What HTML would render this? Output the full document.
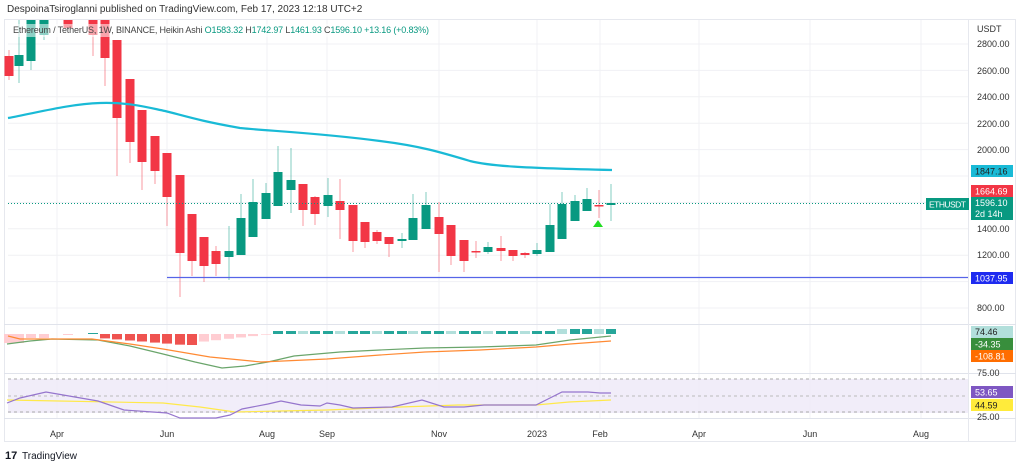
<!DOCTYPE html>
<html><head><meta charset="utf-8"><style>
body{margin:0;background:#fff;width:1024px;height:467px;overflow:hidden;font-family:"Liberation Sans",sans-serif}
svg{display:block}
text{font-family:"Liberation Sans",sans-serif}
</style></head><body>
<svg id="s" width="1024" height="467" xmlns="http://www.w3.org/2000/svg">
<rect width="1024" height="467" fill="#fff"/>
<text x="7" y="12" font-size="10" fill="#333">DespoinaTsiroglanni published on TradingView.com, Feb 17, 2023 12:18 UTC+2</text>
<rect x="4.5" y="19.5" width="1011" height="422" fill="none" stroke="#e6e8ee"/>
<g id="grid" stroke="#f0f1f4" stroke-width="1"></g>
<line x1="4" y1="324.5" x2="1016" y2="324.5" stroke="#e0e3eb"/>
<line x1="4" y1="373.5" x2="1016" y2="373.5" stroke="#e0e3eb"/>
<line x1="4" y1="418.5" x2="1016" y2="418.5" stroke="#e0e3eb"/>
<line x1="968.5" y1="19" x2="968.5" y2="441" stroke="#e6e8ee"/>
<rect x="8" y="379" width="960" height="34" fill="#ede8f7" opacity="0.8"/>
<line x1="8" y1="379" x2="968" y2="379" stroke="#aaa" stroke-dasharray="3,3"/>
<line x1="8" y1="396" x2="968" y2="396" stroke="#bbb" stroke-dasharray="3,3"/>
<line x1="8" y1="412" x2="968" y2="412" stroke="#aaa" stroke-dasharray="3,3"/>
<g id="c"></g>
<line x1="8" y1="203.5" x2="968" y2="203.5" stroke="#089981" stroke-dasharray="1,2"/>
<line x1="167" y1="277.5" x2="968" y2="277.5" stroke="#5664e8" stroke-width="1.3"/>
<path d="M8,118 C40,112 70,104 100,103 C130,102 150,108 165,111 C185,116 200,121 240,128 C270,131 320,133 380,141 C420,146 440,152 470,161 C490,166 520,168 612,170" fill="none" stroke="#19bad6" stroke-width="2.2"/>
<polygon points="593,227 603,227 598,220" fill="#22dd22"/>
<g id="h"></g>
<polyline fill="none" stroke="#6aa56b" stroke-width="1.2" points="7,344 30,341 52,339 98,340 130,346 163,354 195,362 222,368 245,366 268,362 294,356 340,352 380,350 425,348 480,347 536,345 570,340 611,336"/>
<polyline fill="none" stroke="#ff8a33" stroke-width="1.2" points="8,336 20,339 92,339 130,344 163,349 210,357 261,362 327,359 380,355 425,352 480,350 536,347 570,344 611,341"/>
<polyline fill="none" stroke="#ffe94a" stroke-width="1.2" points="7,400 59,401 163,403 200,407 235,412 280,411 327,410 400,407 458,405 536,405 569,402 611,400"/>
<polyline fill="none" stroke="#9575cd" stroke-width="1.2" points="7,403 20,398 46,392 69,396 98,401 124,410 167,413 180,418 216,418 230,415 242,409 268,404 281,401 301,405 320,406 327,403 340,405 353,408 392,407 422,400 444,407 464,407 484,405 510,405 536,405 550,398 562,392 588,392 600,393 611,393"/>
<g font-size="9" fill="#333">
<text x="977" y="32">USDT</text>
<text x="977" y="47">2800.00</text><text x="977" y="74">2600.00</text><text x="977" y="100">2400.00</text><text x="977" y="127">2200.00</text><text x="977" y="153">2000.00</text><text x="977" y="232">1400.00</text><text x="977" y="258">1200.00</text><text x="977" y="311">800.00</text>
<text x="977" y="376">75.00</text><text x="977" y="420">25.00</text>
</g>
<rect x="971" y="165" width="42" height="12" fill="#19bad6"/><text x="975" y="174.5" font-size="9" fill="#222">1847.16</text>
<rect x="971" y="185" width="42" height="12" fill="#f23645"/><text x="975" y="194.5" font-size="9" fill="#fff">1664.69</text>
<rect x="971" y="197" width="42" height="23" fill="#089981"/><text x="975" y="206" font-size="9" fill="#fff">1596.10</text><text x="975" y="217" font-size="9" fill="#fff">2d 14h</text>
<rect x="926" y="198" width="43" height="12" fill="#089981"/><text x="929" y="207.5" font-size="8.5" fill="#fff" textLength="37">ETHUSDT</text>
<rect x="971" y="272" width="42" height="12" fill="#1e2bf0"/><text x="975" y="281.5" font-size="9" fill="#fff">1037.95</text>
<rect x="971" y="326" width="42" height="12" fill="#b2dfdb"/><text x="975" y="335" font-size="9" fill="#222">74.46</text>
<rect x="971" y="338" width="42" height="12" fill="#388e3c"/><text x="975" y="347.5" font-size="9" fill="#fff">-34.35</text>
<rect x="971" y="350" width="42" height="12" fill="#ff6d00"/><text x="975" y="359.5" font-size="9" fill="#fff">-108.81</text>
<rect x="971" y="386" width="42" height="12" fill="#7e57c2"/><text x="975" y="395.5" font-size="9" fill="#fff">53.65</text>
<rect x="971" y="399" width="42" height="12" fill="#ffeb3b"/><text x="975" y="408.5" font-size="9" fill="#222">44.59</text>
<g font-size="9" fill="#333" text-anchor="middle">
<text x="57" y="437">Apr</text><text x="167" y="437">Jun</text><text x="267" y="437">Aug</text><text x="327" y="437">Sep</text><text x="439" y="437">Nov</text><text x="537" y="437">2023</text><text x="600" y="437">Feb</text><text x="699" y="437">Apr</text><text x="810" y="437">Jun</text><text x="921" y="437">Aug</text>
</g>
<rect x="6" y="24" width="430" height="13" fill="#fff" opacity="0.55"/>
<text x="13" y="33" font-size="9" fill="#444" textLength="416">Ethereum / TetherUS, 1W, BINANCE, Heikin Ashi <tspan fill="#089981">O</tspan><tspan fill="#089981">1583.32</tspan>  H<tspan fill="#089981">1742.97</tspan>  L<tspan fill="#089981">1461.93</tspan>  C<tspan fill="#089981">1596.10</tspan> <tspan fill="#089981">+13.16 (+0.83%)</tspan></text>
<text x="5" y="459" font-size="11" font-weight="bold" fill="#131722">17</text>
<text x="22" y="459" font-size="10" fill="#131722">TradingView</text>
</svg>
<script>
var ns="http://www.w3.org/2000/svg";
function el(p,t,a){var e=document.createElementNS(ns,t);for(var k in a)e.setAttribute(k,a[k]);p.appendChild(e);return e;}
var g=document.getElementById('grid');
for(var p=0;p<=10;p++){var y=44+p*26.4;el(g,'line',{x1:8,x2:968,y1:y,y2:y});}
[57,167,267,327,439,537,600,699,810,921].forEach(function(x){el(g,'line',{x1:x,x2:x,y1:20,y2:418});});
var R='#f23645',G='#089981';
var C=[[9,56,76,50,80,R],[19,55,66,20,83,G],[31,20,61,20,70,G],[44,20,35,20,40,G],[68,20,28,20,30,R],[93,20,35,20,56,R],[105,20,58,20,86,R],[117,40,118,40,176,R],[130,79,142,79,163,R],[142,110,162,110,190,R],[155,136,171,136,184,R],[167,153,197,153,226,R],[180,175,253,175,297,R],[192,214,261,214,276,R],[204,237,266,237,282,R],[216,251,264,246,276,R],[229,251,257,226,280,G],[241,218,255,194,255,G],[253,202,237,179,237,G],[266,193,219,183,219,G],[278,172,206,146,206,G],[291,180,190,148,213,G],[303,184,210,184,226,R],[315,197,214,196,225,R],[328,195,206,178,217,G],[340,201,210,179,239,R],[353,205,241,205,252,R],[365,222,242,222,248,R],[377,232,241,230,244,R],[389,237,244,237,257,R],[402,239,241,233,248,G],[413,218,240,194,240,G],[426,205,229,192,229,G],[439,217,234,202,272,R],[451,225,256,225,265,R],[464,240,261,240,272,R],[476,251,252,241,258,R],[488,247,252,242,254,G],[501,248,251,236,261,R],[513,250,256,250,261,R],[525,253,255,252,258,R],[537,250,254,243,256,G],[550,225,252,204,252,G],[562,204,239,192,239,G],[575,201,221,195,221,G],[587,199,211,188,211,G],[599,205,206,190,218,R],[611,203,205,184,221,G]];
var c=document.getElementById('c');
C.forEach(function(d){var col=d[5];el(c,'line',{x1:d[0],x2:d[0],y1:d[3],y2:d[4],stroke:col,'stroke-opacity':0.5});
el(c,'rect',{x:d[0]-4.5,y:d[1],width:9,height:Math.max(1.5,d[2]-d[1]),fill:col});});
var h=document.getElementById('h');
C.forEach(function(d,i){var x=d[0],v;
if(x<20)v=-9;else if(x<50)v=-4;else if(x<100)v=i%2?1:-1;else if(x<200)v=-4-Math.min(7,(x-100)/12);else if(x<268)v=-8+(x-200)/9;else v=3+(x>560?2:0);
var col=v<0?(x>=100&&x<200?'#ef5350':'#ffcdd2'):(i%3==1?'#b2dfdb':'#26a69a');
el(h,'rect',{x:x-5,y:v<0?334:334-v,width:10,height:Math.abs(v),fill:col});});
</script>
</body></html>
